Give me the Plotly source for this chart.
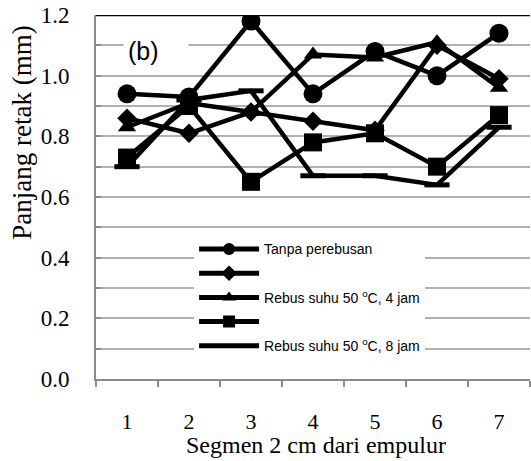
import plotly.graph_objects as go

segmen = [1, 2, 3, 4, 5, 6, 7]
tanpa_perebusan = [0.94, 0.93, 1.18, 0.94, 1.08, 1.00, 1.14]
seri_2 = [0.86, 0.81, 0.88, 0.85, 0.82, 1.10, 0.99]
rebus_4_jam = [0.83, 0.91, 0.88, 1.07, 1.06, 1.11, 0.96]
seri_4 = [0.73, 0.90, 0.65, 0.78, 0.81, 0.70, 0.87]
rebus_8_jam = [0.70, 0.92, 0.95, 0.67, 0.67, 0.64, 0.83]

names = ["Tanpa perebusan", " ", "Rebus suhu 50 <sup>o</sup>C, 4 jam", " ",
         "Rebus suhu 50 <sup>o</sup>C, 8 jam"]
series = [tanpa_perebusan, seri_2, rebus_4_jam, seri_4, rebus_8_jam]
symbols = ["circle", "diamond", "triangle-up", "square", "line-ew"]
sizes = [19, 15, 16, 18, 18]

y_ticks = [0.0, 0.2, 0.4, 0.6, 0.8, 1.0, 1.2]
x_ticks = segmen

SERIF = "Liberation Serif, Times New Roman, Times, serif"
SANS = "Liberation Sans, Arial, sans-serif"

fig = go.Figure()
for i, (nm, ys, sym, sz) in enumerate(zip(names, series, symbols, sizes)):
    fig.add_trace(go.Scatter(
        x=segmen, y=ys, name=nm, mode="lines+markers",
        legendgroup=f"g{i}",
        line=dict(color="black", width=4.5),
        marker=dict(symbol=sym, size=sz, color="black",
                    line=dict(color="black", width=5 if sym == "line-ew" else 0)),
    ))

fig.update_layout(
    width=531, height=461,
    margin=dict(l=96, r=1, t=15, b=82),
    paper_bgcolor="white", plot_bgcolor="white",
    font=dict(family=SERIF, color="black"),
    showlegend=True,
    legend=dict(x=0.226, y=0.40, xanchor="left", yanchor="top",
                bgcolor="white", borderwidth=0, itemsizing="constant",
                font=dict(family=SANS, size=14, color="black"),
                tracegroupgap=3, itemwidth=60),
    xaxis=dict(range=[0.5, 7.5], tickvals=x_ticks, ticktext=[str(v) for v in x_ticks],
               showgrid=False, zeroline=False, showline=True, linecolor="#8c8c8c", linewidth=2,
               ticks="", ticklabelstandoff=22,
               tickfont=dict(family=SERIF, size=22, color="black"),
               minor=dict(tick0=0.5, dtick=1, ticks="outside", ticklen=6, tickcolor="#8c8c8c",
                          tickwidth=2, showgrid=False)),
    yaxis=dict(range=[0, 1.2], tickvals=y_ticks, tickformat=".1f",
               showgrid=True, gridcolor="#b0b0b0", gridwidth=1.5,
               zeroline=False, showline=True, linecolor="#8c8c8c", linewidth=2,
               ticks="inside", ticklen=5, tickcolor="#8c8c8c", tickwidth=1.5,
               ticklabelstandoff=20,
               tickfont=dict(family=SERIF, size=23, color="black"),
               minor=dict(dtick=0.1, tick0=0, showgrid=True, gridcolor="#b0b0b0", gridwidth=1.5,
                          ticks="inside", ticklen=5, tickcolor="#8c8c8c")),
    shapes=[dict(type="line", xref="paper", yref="y", x0=0, x1=1, y0=1.2, y1=1.2,
                 line=dict(color="black", width=2.5))],
    annotations=[
        dict(text="(b)", xref="paper", yref="paper", x=0.062, y=0.9, xanchor="left",
             yanchor="middle", showarrow=False, bgcolor="white", borderpad=4,
             font=dict(family=SANS, size=25, color="black"),
             width=56, align="left"),
        dict(text="Segmen 2 cm dari empulur", xref="paper", yref="paper", x=0.507, y=-0.18,
             xanchor="center", yanchor="middle", showarrow=False,
             font=dict(family=SERIF, size=24, color="black")),
        dict(text="Panjang retak (mm)", xref="paper", yref="paper",
             x=-0.171, y=(379 - 133) / 364, xanchor="center", yanchor="middle",
             textangle=-90, showarrow=False,
             font=dict(family=SERIF, size=27, color="black")),
    ],
)

fig.write_html("out.html")
